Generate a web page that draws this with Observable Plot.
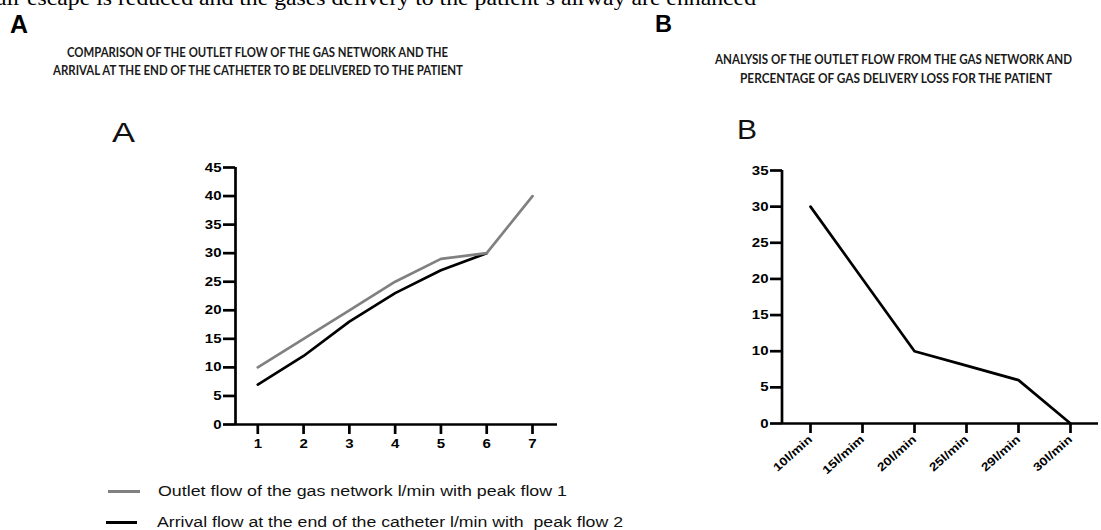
<!DOCTYPE html>
<html><head><meta charset="utf-8">
<script src="https://cdn.jsdelivr.net/npm/d3@7"></script>
<script src="https://cdn.jsdelivr.net/npm/@observablehq/plot@0.6"></script>
<style>
body{margin:0;background:#fff;}
#root{position:relative;width:1101px;height:530px;overflow:hidden;background:#fff;}
.t{position:absolute;white-space:nowrap;transform-origin:0 0;line-height:1;color:#000;}
.sw{position:absolute;height:3px;}
svg{position:absolute;overflow:visible;}
</style></head><body><div id="root"></div>
<script>
// ---- data ----
const pointsA = [1, 2, 3, 4, 5, 6, 7];
const outletFlow = [10, 15, 20, 25, 29, 30, 40];
const arrivalFlow = [7, 12, 18, 23, 27, 30];
const yTicksA = [0, 5, 10, 15, 20, 25, 30, 35, 40, 45];

const flowLabelsB = ["10l/min", "15l/mim", "20l/min", "25l/min", "29l/min", "30l/min"];
const lossPercent = [30, 20, 10, 8, 6, 0];
const yTicksB = [0, 5, 10, 15, 20, 25, 30, 35];

const legendLabels = [
  "Outlet flow of the gas network l/min with peak flow 1",
  "Arrival flow at the end of the catheter l/min with\u00a0 peak flow 2"
];

const root = document.getElementById("root");
const GRAY = "#808080";

function text(str, o) {
  const d = document.createElement("div");
  d.className = "t";
  d.textContent = str;
  d.style.fontFamily = o.family || "'Liberation Sans', Arial, sans-serif";
  d.style.fontSize = o.size + "px";
  d.style.fontWeight = o.weight || "normal";
  d.style.left = o.x + "px";
  d.style.top = (o.cy - 0.49 * o.size) + "px";
  if (o.color) d.style.color = o.color;
  root.appendChild(d);
  if (o.w) {
    const w = d.getBoundingClientRect().width;
    d.style.transform = `scaleX(${o.w / w})`;
  }
  return d;
}

function stretch(svg, k) {
  svg.querySelectorAll('g[aria-label$="tick label"] text').forEach(t => {
    const L = t.getComputedTextLength();
    t.setAttribute("textLength", L * k);
    t.setAttribute("lengthAdjust", "spacingAndGlyphs");
  });
}

const axisFont = {fontFamily: "'Liberation Sans', Arial, sans-serif", fontSize: "12.5px", fontWeight: "bold", color: "#000", background: "transparent", overflow: "visible"};

// ---- chart A ----
const dataOutlet = pointsA.map((x, i) => ({x, y: outletFlow[i]}));
const dataArrival = arrivalFlow.map((y, i) => ({x: pointsA[i], y}));
const x0A = 0.513, x1A = 7.546;
const plotA = Plot.plot({
  width: 600, height: 470,
  marginLeft: 235, marginRight: 43, marginTop: 167, marginBottom: 46,
  style: axisFont,
  x: {domain: [x0A, x1A], axis: null},
  y: {domain: [0, 45], axis: null},
  marks: [
    Plot.line(dataArrival, {x: "x", y: "y", stroke: "#000", strokeWidth: 2.7}),
    Plot.line(dataOutlet, {x: "x", y: "y", stroke: GRAY, strokeWidth: 2.7}),
    Plot.ruleX([x0A], {stroke: "#000", strokeWidth: 2.7}),
    Plot.ruleY([0], {stroke: "#000", strokeWidth: 2.7}),
    Plot.axisY({ticks: yTicksA, label: null, tickSize: 12, tickPadding: 2, strokeWidth: 2.7, stroke: "#000", fill: "#000", tickFormat: d => d}),
    Plot.axisX({ticks: pointsA, label: null, tickSize: 10, tickPadding: 5, strokeWidth: 2.7, stroke: "#000", fill: "#000", tickFormat: d => d})
  ]
});
plotA.style.left = "0px"; plotA.style.top = "0px";
root.appendChild(plotA);
stretch(plotA, 1.2);

// ---- chart B ----
const dataLoss = flowLabelsB.map((x, i) => ({x, y: lossPercent[i]}));
const plotB = Plot.plot({
  width: 501, height: 500,
  marginLeft: 182, marginRight: 3, marginTop: 170, marginBottom: 77,
  style: axisFont,
  x: {type: "point", domain: flowLabelsB, padding: 0.5, axis: null},
  y: {domain: [0, 35], axis: null},
  marks: [
    Plot.line(dataLoss, {x: "x", y: "y", stroke: "#000", strokeWidth: 2.7}),
    Plot.ruleY([0], {stroke: "#000", strokeWidth: 2.7}),
    Plot.axisY({ticks: yTicksB, label: null, tickSize: 12, tickPadding: 2, strokeWidth: 2.7, stroke: "#000", fill: "#000", tickFormat: d => d}),
    Plot.axisX({label: null, tickSize: 10, tickPadding: 4, tickRotate: -42, strokeWidth: 2.7, stroke: "#000", fill: "#000", fontSize: 11.5})
  ]
});
plotB.style.left = "600px"; plotB.style.top = "0px";
root.appendChild(plotB);
stretch(plotB, 1.2);
// y-axis frame line for B (left edge of frame)
{
  const ns = "http://www.w3.org/2000/svg";
  const ln = document.createElementNS(ns, "line");
  ln.setAttribute("x1", 182); ln.setAttribute("x2", 182);
  ln.setAttribute("y1", 170); ln.setAttribute("y2", 424);
  ln.setAttribute("stroke", "#000"); ln.setAttribute("stroke-width", 2.7);
  plotB.appendChild(ln);
}

// ---- texts ----
const TITLE = "Lato, 'Open Sans', sans-serif";
text("air escape is reduced and the gases delivery to the patient\u2019s airway are enhanced", {x: -4, cy: -2, size: 21, family: "'Liberation Serif', 'Times New Roman', serif", w: 760});
text("A", {x: 10, cy: 24, size: 25, weight: "bold", w: 18});
text("B", {x: 655, cy: 23.5, size: 24, weight: "bold", w: 17});
text("COMPARISON  OF THE OUTLET FLOW OF THE GAS NETWORK AND THE", {x: 67, cy: 53, size: 12.5, weight: "bold", family: TITLE, w: 381, color: "#1a1a1a"});
text("ARRIVAL AT THE END OF THE CATHETER TO BE DELIVERED TO THE PATIENT", {x: 53, cy: 71, size: 12.5, weight: "bold", family: TITLE, w: 410, color: "#1a1a1a"});
text("ANALYSIS OF THE OUTLET FLOW FROM THE GAS NETWORK AND", {x: 715, cy: 60, size: 12.5, weight: "bold", family: TITLE, w: 357, color: "#1a1a1a"});
text("PERCENTAGE OF GAS DELIVERY LOSS FOR THE PATIENT", {x: 740, cy: 79, size: 12.5, weight: "bold", family: TITLE, w: 312, color: "#1a1a1a"});
text("A", {x: 112, cy: 133, size: 27, w: 23, color: "#111"});
text("B", {x: 737, cy: 130, size: 27, w: 20, color: "#111"});

// legend
[[GRAY, 108, 140, 491], ["#000", 106, 137, 522]].forEach(([c, x1, x2, y]) => {
  const s = document.createElement("div");
  s.className = "sw";
  s.style.background = c; s.style.left = x1 + "px"; s.style.width = (x2 - x1) + "px"; s.style.top = (y - 1.5) + "px";
  root.appendChild(s);
});
text(legendLabels[0], {x: 158, cy: 491, size: 14, w: 409, color: "#111"});
text(legendLabels[1], {x: 157, cy: 522, size: 14, w: 466, color: "#111"});
</script></body></html>
